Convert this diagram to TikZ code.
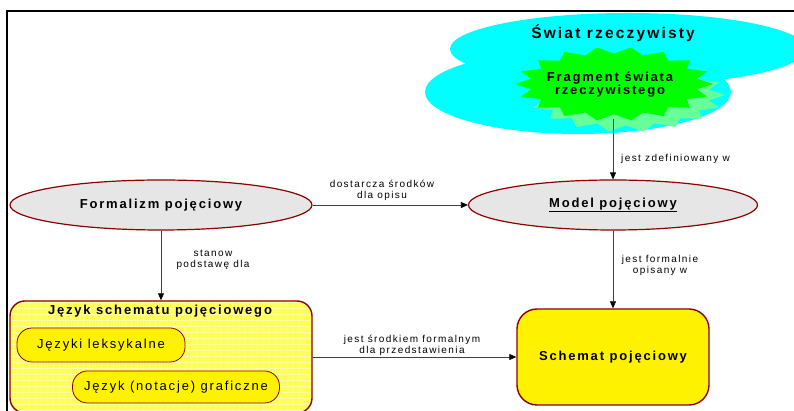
\documentclass[tikz,border=0pt]{standalone}
\usepackage{fontspec}
\setmainfont{Liberation Sans}[LetterSpace=14]
\usetikzlibrary{shapes.geometric,arrows.meta}
\definecolor{darkred}{HTML}{8B0000}
\definecolor{cloudcyan}{HTML}{00FFFF}
\definecolor{burstgreen}{HTML}{00FF00}
\definecolor{shadowgreen}{HTML}{66FF99}
\definecolor{conceptgray}{HTML}{E6E6E6}
\definecolor{paleyellow}{HTML}{FFFF55}
\definecolor{gridyellow}{HTML}{FFFFAA}
\definecolor{linegray}{HTML}{404040}
\begin{document}
\begin{tikzpicture}[
		x=1pt, y=1pt,
		concept/.style={ellipse, draw=darkred, line width=1.2pt, fill=conceptgray, inner sep=0pt, font=\bfseries\fontsize{13}{14}\selectfont},
		pill/.style={rectangle, rounded corners=15pt, draw=darkred, line width=0.8pt, fill=yellow, inner sep=0pt, font=\fontsize{13}{14}\selectfont},
		relation/.style={font=\fontsize{10}{11}\selectfont, align=center, inner sep=0pt},
		link/.style={draw=linegray, line width=0.8pt, -{Triangle[length=7pt,width=6pt,color=black]}}
	]
	\useasboundingbox (0,0) rectangle (794,411);
	% cloud
	\fill[cloudcyan] (628,362) ellipse [x radius=178, y radius=36];
	\fill[cloudcyan] (578,319) ellipse [x radius=153, y radius=42];
	% starburst with its shadow
	\fill[shadowgreen] plot[samples at={0,...,35}] ({626+99*(1-0.15*mod(\x,2))*cos(10*\x)}, {316+37*(1-0.18*mod(\x,2))*sin(10*\x)}) -- cycle;
	\fill[burstgreen] plot[samples at={0,...,35}] ({614+99*(1-0.15*mod(\x,2))*cos(10*\x)}, {327+37*(1-0.18*mod(\x,2))*sin(10*\x)}) -- cycle;
	\node[font=\bfseries\fontsize{15.5}{18}\selectfont] (swiat) at (613,378) {Świat rzeczywisty};
	\node[align=center, font=\bfseries\fontsize{13}{12}\selectfont] (fragment) at (610,326) {Fragment świata\\rzeczywistego};
	\coordinate (fragbottom) at (613,292);
	% concepts
	\node[concept, minimum width=302pt, minimum height=50pt] (formalizm) at (161,206) {Formalizm pojęciowy};
	\node[concept, minimum width=289pt, minimum height=50pt] (model) at (613,206) {\underline{Model pojęciowy}};
	% language box
	\node[draw=darkred, line width=1.4pt, rounded corners=15pt, fill=paleyellow, minimum width=302pt, minimum height=112pt, inner sep=0pt,
		path picture={\draw[gridyellow, line width=1pt] (path picture bounding box.south west) grid[step=6pt] (path picture bounding box.north east);}] (jezyk) at (161,54) {};
	\node[font=\bfseries\fontsize{13}{14}\selectfont] (jezyktitle) at (160,100) {Język schematu pojęciowego};
	\node[pill, minimum width=168pt, minimum height=34pt] (leksykalne) at (101,66) {Języki leksykalne};
	\node[pill, minimum width=207pt, minimum height=32pt] (graficzne) at (176,24) {Język (notacje) graficzne};
	% schema
	\node[draw=darkred, line width=1.4pt, rounded corners=20pt, fill=yellow, minimum width=192pt, minimum height=96pt, inner sep=0pt, font=\bfseries\fontsize{13}{14}\selectfont] (schemat) at (613,54) {Schemat pojęciowy};
	% relations
	\draw[link] (formalizm) -- (model);
	\draw[link] (formalizm) -- (jezyk);
	\draw[link] (fragbottom) -- (model.north);
	\draw[link] (model) -- (schemat);
	\draw[link] (jezyk) -- (schemat);
	\node[relation] (dostarcza) at (382,220.5) {dostarcza środków\\dla opisu};
	\node[relation] (stanowi) at (213,151.5) {stanow\\podstawę dla};
	\node[relation, anchor=west] (zdefiniowany) at (621,252) {jest zdefiniowany w};
	\node[relation] (formalnie) at (660,146) {jest formalnie\\opisany w};
	\node[relation] (srodkiem) at (412,66) {jest środkiem formalnym\\dla przedstawienia};
	% frame
	\draw[line width=2pt] (7,0) -- (7,400) -- (794,400);
\end{tikzpicture}
\end{document}
